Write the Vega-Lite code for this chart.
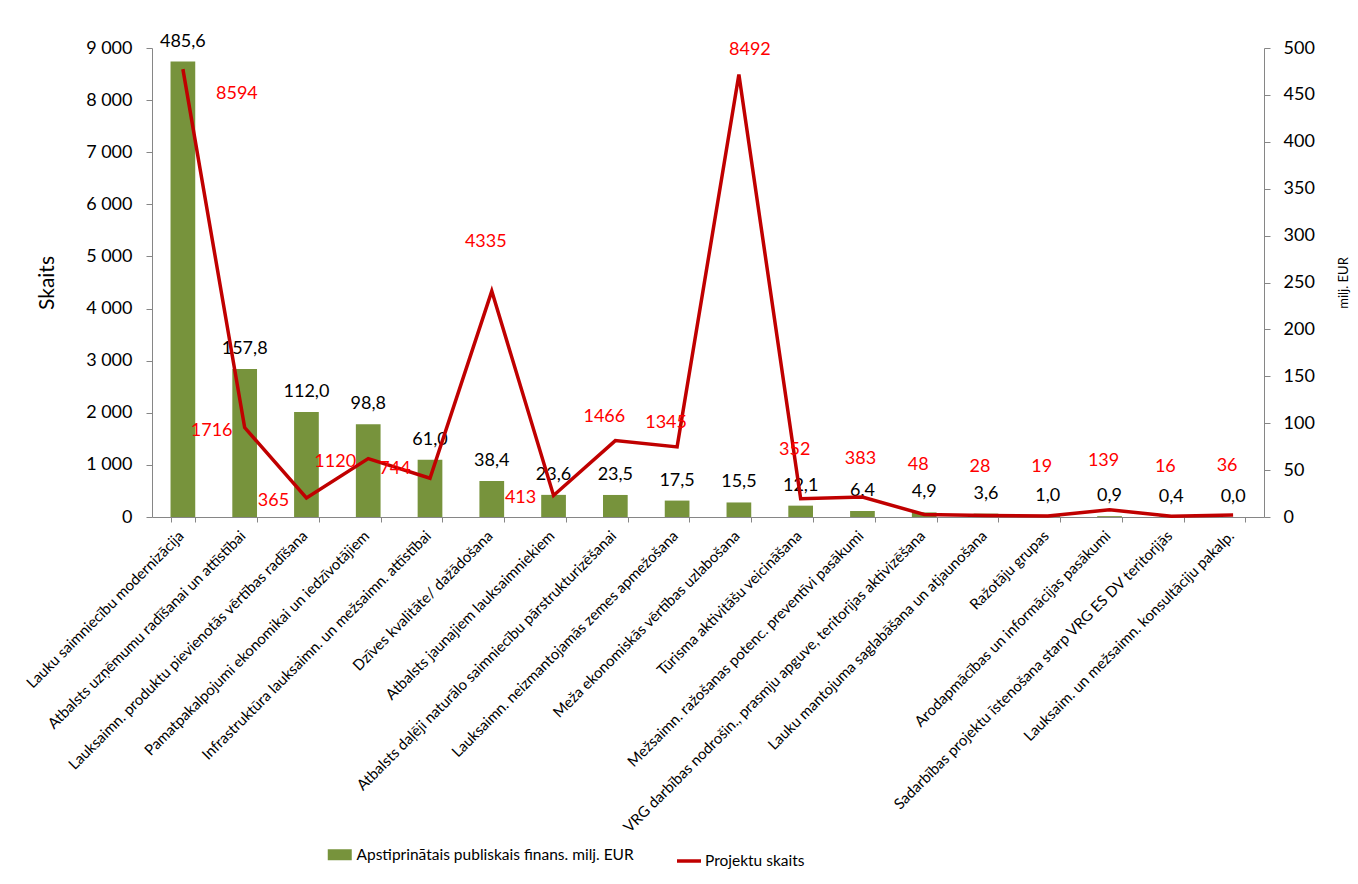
{
  "$schema": "https://vega.github.io/schema/vega-lite/v6.json",
  "width": 1112,
  "height": 469,
  "autosize": {"type": "none"},
  "padding": {"left": 152, "top": 48, "right": 94, "bottom": 367},
  "background": "white",
  "config": {
    "locale": {"number": {"decimal": ",", "thousands": " ", "grouping": [3], "currency": ["", " €"]}},
    "view": {"stroke": null},
    "font": "Lato",
    "axis": {"grid": false, "domainColor": "#868686", "tickColor": "#868686", "labelColor": "#000000", "titleColor": "#000000", "labelFont": "Lato", "titleFont": "Lato", "titleFontWeight": "normal"},
    "legend": {"labelFont": "Lato", "labelColor": "#000000"}
  },
  "data": {
    "values": [
      {"n": 1, "kat": "Lauku saimniecību modernizācija", "fin": 485.6, "skaits": 8594},
      {"n": 2, "kat": "Atbalsts uzņēmumu radīšanai un attīstībai", "fin": 157.8, "skaits": 1716},
      {"n": 3, "kat": "Lauksaimn. produktu pievienotās vērtības radīšana", "fin": 112.0, "skaits": 365},
      {"n": 4, "kat": "Pamatpakalpojumi ekonomikai un iedzīvotājiem", "fin": 98.8, "skaits": 1120},
      {"n": 5, "kat": "Infrastruktūra lauksaimn. un mežsaimn. attīstībai", "fin": 61.0, "skaits": 744},
      {"n": 6, "kat": "Dzīves kvalitāte/ dažādošana", "fin": 38.4, "skaits": 4335},
      {"n": 7, "kat": "Atbalsts jaunajiem lauksaimniekiem", "fin": 23.6, "skaits": 413},
      {"n": 8, "kat": "Atbalsts daļēji naturālo saimniecību pārstrukturizēšanai", "fin": 23.5, "skaits": 1466},
      {"n": 9, "kat": "Lauksaimn. neizmantojamās zemes apmežošana", "fin": 17.5, "skaits": 1345},
      {"n": 10, "kat": "Meža ekonomiskās vērtības uzlabošana", "fin": 15.5, "skaits": 8492},
      {"n": 11, "kat": "Tūrisma aktivitāšu veicināšana", "fin": 12.1, "skaits": 352},
      {"n": 12, "kat": "Mežsaimn. ražošanas potenc. preventīvi pasākumi", "fin": 6.4, "skaits": 383},
      {"n": 13, "kat": "VRG darbības nodrošin., prasmju apguve, teritorijas aktivizēšana", "fin": 4.9, "skaits": 48},
      {"n": 14, "kat": "Lauku mantojuma saglabāšana un atjaunošana", "fin": 3.6, "skaits": 28},
      {"n": 15, "kat": "Ražotāju grupas", "fin": 1.0, "skaits": 19},
      {"n": 16, "kat": "Arodapmācības un informācijas pasākumi", "fin": 0.9, "skaits": 139},
      {"n": 17, "kat": "Sadarbības projektu īstenošana starp VRG ES DV teritorijās", "fin": 0.4, "skaits": 16},
      {"n": 18, "kat": "Lauksaim. un mežsaimn. konsultāciju pakalp.", "fin": 0.0, "skaits": 36}
    ]
  },
  "encoding": {
    "x": {
      "field": "kat", "type": "nominal", "sort": null,
      "scale": {"paddingInner": 0.6, "paddingOuter": 0.3},
      "axis": {"title": null, "labelAngle": -45, "labelAlign": "right", "labelBaseline": "top", "labelFontSize": 15, "labelOffset": -7, "tickBand": "extent", "tickSize": 5, "labelPadding": 6, "labelLimit": 0}
    }
  },
  "layer": [
    {
      "encoding": {
        "y": {
          "field": "fin", "type": "quantitative",
          "scale": {"domain": [0, 500], "nice": false},
          "axis": {"orient": "right", "values": [0, 50, 100, 150, 200, 250, 300, 350, 400, 450, 500], "format": "d", "title": "milj. EUR", "titleAngle": 270, "titleFontSize": 13, "labelFontSize": 18, "tickSize": 6, "labelPadding": 13, "titlePadding": 36}
        }
      },
      "layer": [
        {
          "mark": {"type": "bar", "color": "#77933C"},
          "encoding": {
            "fill": {
              "datum": "Apstiprinātais publiskais finans. milj. EUR", "type": "nominal",
              "scale": {"range": ["#77933C"]},
              "legend": {"title": null, "orient": "none", "legendX": 180, "legendY": 799, "symbolType": "M-2.4,-1.1H2.4V1.1H-2.4Z", "symbolSize": 100, "symbolStrokeWidth": 0, "labelFontSize": 15.5, "labelOffset": 9, "padding": 0, "labelLimit": 0}
            }
          }
        },
        {
          "mark": {"type": "text", "dy": -20, "fontSize": 18, "color": "#000000"},
          "encoding": {"text": {"field": "fin", "type": "quantitative", "format": ".1f"}}
        }
      ]
    },
    {
      "encoding": {
        "y": {
          "field": "skaits", "type": "quantitative",
          "scale": {"domain": [0, 9000], "nice": false},
          "axis": {"orient": "left", "values": [0, 1000, 2000, 3000, 4000, 5000, 6000, 7000, 8000, 9000], "format": ",d", "title": "Skaits", "titleFontSize": 21, "labelFontSize": 18, "tickSize": 6, "labelPadding": 14, "titlePadding": 28}
        }
      },
      "layer": [
        {
          "mark": {"type": "line", "strokeWidth": 3.5, "color": "#C00000"},
          "encoding": {
            "stroke": {
              "datum": "Projektu skaits", "type": "nominal",
              "scale": {"range": ["#C00000"]},
              "legend": {"title": null, "orient": "none", "legendX": 523, "legendY": 799, "symbolType": "stroke", "symbolSize": 576, "symbolStrokeWidth": 3.5, "labelFontSize": 15.5, "labelOffset": 2, "padding": 0, "labelLimit": 0}
            }
          }
        },
        {
          "transform": [{"filter": "datum.n == 1"}],
          "mark": {"type": "text", "dx": 54, "dy": 25, "fontSize": 18, "color": "#FF0000"},
          "encoding": {"text": {"field": "skaits", "type": "quantitative", "format": "d"}}
        },
        {
          "transform": [{"filter": {"field": "n", "oneOf": [2, 3, 4, 7]}}],
          "mark": {"type": "text", "dx": -33, "dy": 3, "fontSize": 18, "color": "#FF0000"},
          "encoding": {"text": {"field": "skaits", "type": "quantitative", "format": "d"}}
        },
        {
          "transform": [{"filter": "datum.n == 5"}],
          "mark": {"type": "text", "dx": -35, "dy": -9, "fontSize": 18, "color": "#FF0000"},
          "encoding": {"text": {"field": "skaits", "type": "quantitative", "format": "d"}}
        },
        {
          "transform": [{"filter": {"field": "n", "oneOf": [8, 9]}}],
          "mark": {"type": "text", "dx": -11, "dy": -24, "fontSize": 18, "color": "#FF0000"},
          "encoding": {"text": {"field": "skaits", "type": "quantitative", "format": "d"}}
        },
        {
          "transform": [{"filter": "datum.n == 10"}],
          "mark": {"type": "text", "dx": 11, "dy": -24, "fontSize": 18, "color": "#FF0000"},
          "encoding": {"text": {"field": "skaits", "type": "quantitative", "format": "d"}}
        },
        {
          "transform": [{"filter": {"field": "n", "oneOf": [6, 11, 13, 14, 15, 16, 17, 18]}}],
          "mark": {"type": "text", "dx": -6, "dy": -49, "fontSize": 18, "color": "#FF0000"},
          "encoding": {"text": {"field": "skaits", "type": "quantitative", "format": "d"}}
        },
        {
          "transform": [{"filter": "datum.n == 12"}],
          "mark": {"type": "text", "dx": -2, "dy": -38, "fontSize": 18, "color": "#FF0000"},
          "encoding": {"text": {"field": "skaits", "type": "quantitative", "format": "d"}}
        }
      ]
    }
  ],
  "resolve": {"scale": {"y": "independent"}}
}
